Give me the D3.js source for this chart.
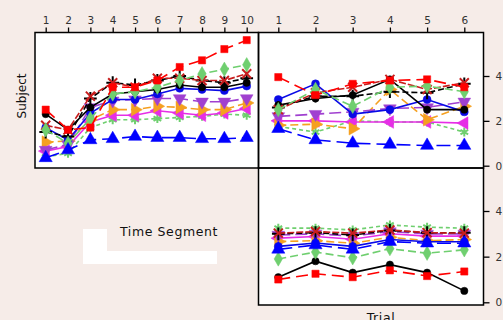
<!DOCTYPE html>
<html>
<head>
<meta charset="utf-8">
<script src="https://cdn.jsdelivr.net/npm/d3@7"></script>
<style>
  html, body { margin: 0; padding: 0; background: #f6ece8; }
  svg { display: block; font-family: "DejaVu Sans", Verdana, sans-serif; }
</style>
</head>
<body>
<svg id="chart" width="503" height="320"></svg>
<script>
// ---- data ----
const timeSegments = [1, 2, 3, 4, 5, 6, 7, 8, 9, 10];
const trials = [1, 2, 3, 4, 5, 6];
const rightTicks = [0, 2, 4];

// one entry per subject line (order = draw order)
const subjects = ['S1', 'S2', 'S3', 'S4', 'S5', 'S6', 'S7', 'S8', 'S9', 'S10', 'S11'];

// mean response by time segment (top-left panel)
const bySegment = [
  [0.4, 0.55, 1.7, 2.05, 2.05, 2.1, 2.15, 2.2, 2.3, 2.25],
  [0.65, 0.85, 1.95, 2.25, 2.25, 2.45, 2.35, 2.25, 2.35, 2.55],
  [1.05, 1.1, 2.05, 2.5, 2.5, 2.65, 2.6, 2.5, 2.5, 2.8],
  [0.7, 0.95, 2.6, 2.9, 2.95, 3.0, 3.0, 2.85, 2.85, 3.0],
  [1.7, 1.15, 2.35, 2.95, 2.95, 3.2, 3.45, 3.4, 3.35, 3.55],
  [2.3, 1.6, 2.6, 3.2, 3.3, 3.4, 3.6, 3.5, 3.5, 3.7],
  [1.5, 1.3, 3.0, 3.7, 3.6, 3.8, 4.0, 3.8, 3.7, 3.9],
  [1.8, 1.6, 3.1, 3.7, 3.5, 3.9, 3.9, 3.8, 3.8, 4.1],
  [1.6, 1.0, 2.1, 3.2, 3.3, 3.5, 3.8, 4.1, 4.3, 4.5],
  [2.5, 1.6, 1.7, 3.5, 3.5, 3.8, 4.4, 4.7, 5.2, 5.6],
  [0.35, 0.7, 1.15, 1.2, 1.3, 1.25, 1.25, 1.2, 1.2, 1.25]
];

// mean response by trial (top-right panel)
const byTrial = [
  [1.75, 1.5, 2.0, 1.95, 1.95, 1.5],
  [2.0, 2.0, 1.95, 1.95, 1.95, 1.9],
  [1.8, 1.85, 1.65, 3.4, 2.05, 2.65],
  [2.2, 2.3, 2.4, 2.55, 2.6, 2.85],
  [2.95, 3.65, 2.3, 2.5, 2.95, 2.4],
  [2.7, 3.0, 3.15, 3.85, 2.5, 2.5],
  [2.6, 3.1, 3.1, 3.3, 3.25, 3.65],
  [2.5, 3.25, 3.5, 3.85, 3.4, 3.7],
  [2.5, 3.4, 2.65, 3.5, 3.55, 3.3],
  [3.95, 3.15, 3.65, 3.8, 3.85, 3.5],
  [1.65, 1.15, 1.0, 0.95, 0.9, 0.9]
];

// second response by trial (bottom-right panel)
const byTrialLower = [
  [3.25, 3.25, 3.17, 3.39, 3.29, 3.25],
  [2.81, 2.88, 2.76, 3.0, 2.9, 2.9],
  [2.66, 2.7, 2.59, 2.85, 2.7, 2.75],
  [2.95, 3.0, 2.9, 3.1, 3.0, 3.0],
  [2.45, 2.6, 2.45, 2.75, 2.65, 2.65],
  [1.1, 1.8, 1.3, 1.65, 1.3, 0.5],
  [3.0, 3.05, 2.95, 3.15, 3.05, 3.05],
  [3.03, 3.1, 3.03, 3.17, 3.05, 3.03],
  [1.9, 2.2, 1.95, 2.35, 2.15, 2.3],
  [1.0, 1.25, 1.1, 1.4, 1.15, 1.35],
  [2.32, 2.51, 2.32, 2.66, 2.59, 2.59]
];

// ---- styles per subject ----
const styles = [
  { color: '#6fcf6f', dash: '4,3', sym: d3.symbolAsterisk || d3.symbolCross, stroke: true, rot: 0, size: 55 },
  { color: '#e62ee6', dash: null, sym: d3.symbolTriangle, rot: -90, size: 70 },
  { color: '#f5a020', dash: '8,4', sym: d3.symbolTriangle, rot: 90, size: 70 },
  { color: '#a040d0', dash: '12,5', sym: d3.symbolTriangle, rot: 180, size: 70 },
  { color: '#0a0ae6', dash: null, sym: d3.symbolCircle, rot: 0, size: 50 },
  { color: '#000000', dash: null, sym: d3.symbolCircle, rot: 0, size: 42 },
  { color: '#000000', dash: '6,3', sym: d3.symbolPlus || d3.symbolCross, stroke: true, rot: 0, size: 55 },
  { color: '#c81e1e', dash: '7,2', sym: d3.symbolTimes || d3.symbolCross, stroke: true, rot: 0, size: 55 },
  { color: '#6fcf6f', dash: '8,4', sym: d3.symbolDiamond, rot: 0, size: 60 },
  { color: '#ff0000', dash: '12,6', sym: d3.symbolSquare, rot: 0, size: 52 },
  { color: '#0000ff', dash: '14,6', sym: d3.symbolTriangle, rot: 0, size: 75 }
];

const svg = d3.select('#chart');

// panel boxes
const leftX = [35, 258.5];
const rightX = [258.5, 483.5];
const topY = [32.5, 168];
const botY = [168, 305];

const xSeg = d3.scaleLinear().domain([1, 10]).range([45.7, 246.7]);
const xTrial = d3.scaleLinear().domain([1, 6]).range([278.3, 464.3]);
const yTop = d3.scaleLinear().domain([0, 4]).range([165.7, 76]);
const yBot = d3.scaleLinear().domain([0, 4]).range([302.3, 211]);

// white panels
[[leftX, topY], [rightX, topY], [rightX, botY]].forEach(([px, py]) => {
  svg.append('rect')
    .attr('x', px[0]).attr('y', py[0])
    .attr('width', px[1] - px[0]).attr('height', py[1] - py[0])
    .attr('fill', '#fff');
});

// odd white legend remnant in the empty cell
svg.append('rect').attr('x', 83).attr('y', 229).attr('width', 24).attr('height', 35).attr('fill', '#fff');
svg.append('rect').attr('x', 83).attr('y', 251).attr('width', 134).attr('height', 13).attr('fill', '#fff');

function drawPanel(xScale, yScale, xs, rows) {
  const grp = svg.append('g');
  const line = d3.line().x((d, i) => xScale(xs[i])).y((d) => yScale(d));

  rows.forEach((vals, k) => {
    const st = styles[k];
    grp.append('path')
      .datum(vals)
      .attr('d', line)
      .attr('fill', 'none')
      .attr('stroke', st.color)
      .attr('stroke-width', 1.6)
      .attr('stroke-dasharray', st.dash);

    const sym = d3.symbol().type(st.sym).size(st.size);
    grp.selectAll(null)
      .data(vals)
      .enter()
      .append('path')
      .attr('d', sym)
      .attr('transform', (d, i) =>
        'translate(' + xScale(xs[i]) + ',' + yScale(d) + ') rotate(' + st.rot + ')')
      .attr('fill', st.stroke ? 'none' : st.color)
      .attr('stroke', st.color)
      .attr('stroke-width', st.stroke ? 2 : 0.5);
  });
}

drawPanel(xSeg, yTop, timeSegments, bySegment);
drawPanel(xTrial, yTop, trials, byTrial);
drawPanel(xTrial, yBot, trials, byTrialLower);

// panel borders
[[leftX, topY], [rightX, topY], [rightX, botY]].forEach(([px, py]) => {
  svg.append('rect')
    .attr('x', px[0]).attr('y', py[0])
    .attr('width', px[1] - px[0]).attr('height', py[1] - py[0])
    .attr('fill', 'none')
    .attr('stroke', '#000')
    .attr('stroke-width', 1.5);
});

// top axes
function topAxis(scale, ticks) {
  const ax = svg.append('g')
    .attr('transform', 'translate(0,' + topY[0] + ')')
    .call(d3.axisTop(scale).tickValues(ticks).tickSize(5).tickPadding(4).tickFormat(d3.format('d')));
  ax.select('.domain').remove();
  ax.selectAll('line').attr('stroke', '#000').attr('stroke-width', 1.3);
  ax.selectAll('text')
    .attr('fill', '#333')
    .style('font-size', '10.5px')
    .style('font-family', '"DejaVu Sans", Verdana, sans-serif');
}
topAxis(xSeg, timeSegments);
topAxis(xTrial, trials);

// right axes (labels run off the edge, as in the original)
function rightAxis(scale) {
  const ax = svg.append('g')
    .attr('transform', 'translate(' + rightX[1] + ',0)')
    .call(d3.axisRight(scale).tickValues(rightTicks).tickSize(6).tickPadding(6));
  ax.select('.domain').remove();
  ax.selectAll('line').attr('stroke', '#000').attr('stroke-width', 1.3);
  ax.selectAll('text')
    .attr('fill', '#333')
    .style('font-size', '10.5px')
    .style('font-family', '"DejaVu Sans", Verdana, sans-serif');
}
rightAxis(yTop);
rightAxis(yBot);

// titles
svg.append('text')
  .attr('transform', 'translate(26,96) rotate(-90)')
  .attr('text-anchor', 'middle')
  .attr('fill', '#111')
  .style('font-size', '12px')
  .text('Subject');

svg.append('text')
  .attr('x', 120)
  .attr('y', 236)
  .attr('fill', '#111')
  .style('font-size', '12.5px')
  .style('letter-spacing', '0.6px')
  .text('Time Segment');

svg.append('text')
  .attr('x', 381)
  .attr('y', 322)
  .attr('text-anchor', 'middle')
  .attr('fill', '#111')
  .style('font-size', '12.5px')
  .style('letter-spacing', '0.6px')
  .text('Trial');
</script>
</body>
</html>
